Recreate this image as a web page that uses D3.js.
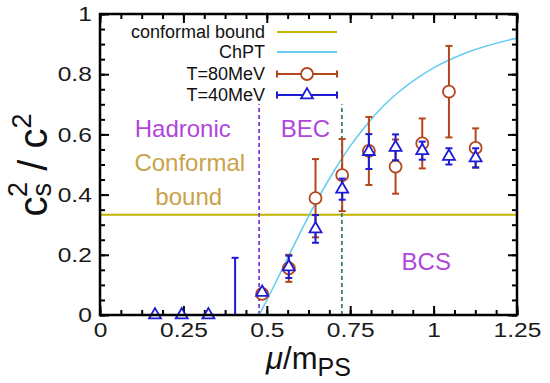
<!DOCTYPE html>
<html>
<head>
<meta charset="utf-8">
<script src="https://cdn.jsdelivr.net/npm/d3@7"></script>
<style>
  html, body { margin: 0; padding: 0; background: #fff; }
  svg { display: block; font-family: "Liberation Sans", Arial, sans-serif; }
</style>
</head>
<body>
<div id="chart"></div>
<script>
// ---- data ----
const xTicks = [0, 0.25, 0.5, 0.75, 1, 1.25];
const yTicks = [0, 0.2, 0.4, 0.6, 0.8, 1];
const xTickLabels = ['0', '0.25', '0.5', '0.75', '1', '1.25'];
const yTickLabels = ['0', '0.2', '0.4', '0.6', '0.8', '1'];

const conformalBound = 1 / 3;
const hadronicEdge = 0.477;   // purple dashed line
const becEdge = 0.725;        // green dashed line
const dashedTop = 0.70;

// ChPT curve, points
const chptMu = [0.477, 0.50, 0.52, 0.55, 0.60, 0.65, 0.70, 0.75, 0.80, 0.85, 0.90, 0.95, 1.00, 1.10, 1.25];
const chptCs2 = [0, 0.049, 0.093, 0.161, 0.273, 0.380, 0.476, 0.561, 0.633, 0.695, 0.745, 0.786, 0.821, 0.872, 0.920];

// T = 80 MeV (red circles)
const t80Mu = [0.486, 0.566, 0.646, 0.726, 0.806, 0.886, 0.966, 1.046, 1.126];
const t80Cs2 = [0.07, 0.155, 0.388, 0.465, 0.545, 0.493, 0.57, 0.742, 0.555];
const t80Err = [0.01, 0.045, 0.13, 0.12, 0.113, 0.09, 0.083, 0.152, 0.065];

// T = 40 MeV (blue triangles)
const t40Mu = [0.165, 0.245, 0.325, 0.405, 0.486, 0.566, 0.646, 0.726, 0.806, 0.886, 0.966, 1.046, 1.126];
const t40Cs2 = [0, 0, 0, -0.2, 0.075, 0.16, 0.286, 0.418, 0.543, 0.557, 0.546, 0.527, 0.522];
const t40Err = [0, 0, 0, 0.39, 0.005, 0.037, 0.046, 0.035, 0.058, 0.043, 0.03, 0.027, 0.032];

const colors = {
  bound: '#c2b300',
  chpt: '#66cdf0',
  t80: '#b4461c',
  t40: '#1c1cd4',
  region: '#b046dc',
  boundText: '#c9a24a',
  hadronLine: '#7a3fd6',
  becLine: '#3c7c72'
};

const W = 550, H = 383;
const margin = { top: 14, right: 33, bottom: 68, left: 100 };
const width = W - margin.left - margin.right;
const height = H - margin.top - margin.bottom;

const svg = d3.select('#chart').append('svg')
  .attr('width', W).attr('height', H);

const g = svg.append('g').attr('transform', `translate(${margin.left},${margin.top})`);

const x = d3.scaleLinear().domain([0, 1.25]).range([0, width]);
const y = d3.scaleLinear().domain([0, 1]).range([height, 0]);

g.append('clipPath').attr('id', 'plot-clip')
  .append('rect').attr('width', width).attr('height', height);

// ---- axes (inward ticks on all four sides) ----
const xMinor = d3.range(0, 1.2501, 0.0625);
const yMinor = d3.range(0, 1.0001, 0.05);

function styleAxis(sel) {
  sel.select('.domain').remove();
  sel.selectAll('line').attr('stroke', '#000').attr('stroke-width', 2);
  // the original labels are drawn a bit wide
  sel.selectAll('text').attr('fill', '#1a1a1a').style('font-size', '21px')
    .attr('transform', 'scale(1.17,1)');
}

g.append('g').attr('transform', `translate(0,${height})`)
  .call(d3.axisBottom(x).tickValues(xMinor).tickSize(-5).tickFormat(''))
  .call(styleAxis);
g.append('g').attr('transform', `translate(0,${height})`)
  .call(d3.axisBottom(x).tickValues(xTicks).tickSize(-9).tickPadding(7)
    .tickFormat((d, i) => xTickLabels[i]))
  .call(styleAxis);
g.append('g')
  .call(d3.axisTop(x).tickValues(xMinor).tickSize(-5).tickFormat(''))
  .call(styleAxis);
g.append('g')
  .call(d3.axisTop(x).tickValues(xTicks).tickSize(-9).tickFormat(''))
  .call(styleAxis);

g.append('g')
  .call(d3.axisLeft(y).tickValues(yMinor).tickSize(-5).tickFormat(''))
  .call(styleAxis);
g.append('g')
  .call(d3.axisLeft(y).tickValues(yTicks).tickSize(-9).tickPadding(7)
    .tickFormat((d, i) => yTickLabels[i]))
  .call(styleAxis);
g.append('g').attr('transform', `translate(${width},0)`)
  .call(d3.axisRight(y).tickValues(yMinor).tickSize(-5).tickFormat(''))
  .call(styleAxis);
g.append('g').attr('transform', `translate(${width},0)`)
  .call(d3.axisRight(y).tickValues(yTicks).tickSize(-9).tickFormat(''))
  .call(styleAxis);

// ---- region labels ----
const labels = [
  { t: 'Hadronic', x: 0.248, y: 0.591, c: colors.region },
  { t: 'BEC', x: 0.616, y: 0.591, c: colors.region },
  { t: 'Conformal', x: 0.269, y: 0.478, c: colors.boundText },
  { t: 'bound', x: 0.266, y: 0.365, c: colors.boundText },
  { t: 'BCS', x: 0.978, y: 0.15, c: colors.region }
];
g.selectAll('.region-label').data(labels).join('text')
  .attr('class', 'region-label')
  .attr('x', d => x(d.x)).attr('y', d => y(d.y))
  .attr('text-anchor', 'middle')
  .attr('fill', d => d.c)
  .style('font-size', '24px')
  .text(d => d.t);

// ---- lines ----
g.append('line')
  .attr('x1', 0).attr('x2', width)
  .attr('y1', y(conformalBound)).attr('y2', y(conformalBound))
  .attr('stroke', colors.bound).attr('stroke-width', 2);

[[hadronicEdge, colors.hadronLine], [becEdge, colors.becLine]].forEach(([v, c]) => {
  g.append('line')
    .attr('x1', x(v)).attr('x2', x(v))
    .attr('y1', y(0)).attr('y2', y(dashedTop))
    .attr('stroke', c).attr('stroke-width', 1.8)
    .attr('stroke-dasharray', '4,3');
});

const chpt = chptMu.map((m, i) => ({ x: m, y: chptCs2[i] }));
g.append('path')
  .datum(chpt)
  .attr('clip-path', 'url(#plot-clip)')
  .attr('fill', 'none')
  .attr('stroke', colors.chpt)
  .attr('stroke-width', 1.6)
  .attr('d', d3.line().x(d => x(d.x)).y(d => y(d.y)).curve(d3.curveMonotoneX));

// ---- data with error bars ----
const t80 = t80Mu.map((m, i) => ({ x: m, y: t80Cs2[i], e: t80Err[i] }));
const t40 = t40Mu.map((m, i) => ({ x: m, y: t40Cs2[i], e: t40Err[i] }));

function errorBars(data, color) {
  const eb = g.append('g').attr('clip-path', 'url(#plot-clip)')
    .attr('stroke', color).attr('stroke-width', 2);
  const withErr = data.filter(d => d.e > 0.008);
  eb.selectAll('.v').data(withErr).join('line')
    .attr('x1', d => x(d.x)).attr('x2', d => x(d.x))
    .attr('y1', d => y(d.y - d.e)).attr('y2', d => y(d.y + d.e));
  eb.selectAll('.cap').data(withErr.flatMap(d => [
    { x: d.x, y: d.y - d.e }, { x: d.x, y: d.y + d.e }
  ])).join('line')
    .attr('x1', d => x(d.x) - 3.5).attr('x2', d => x(d.x) + 3.5)
    .attr('y1', d => y(d.y)).attr('y2', d => y(d.y));
}

errorBars(t80, colors.t80);
g.append('g').selectAll('circle').data(t80.filter(d => d.y >= 0)).join('circle')
  .attr('cx', d => x(d.x)).attr('cy', d => y(d.y))
  .attr('r', 6)
  .attr('fill', '#fff').attr('stroke', colors.t80).attr('stroke-width', 1.8);

errorBars(t40, colors.t40);
const tri = d3.symbol(d3.symbolTriangle, 62);
g.append('g').selectAll('path').data(t40.filter(d => d.y >= 0)).join('path')
  .attr('transform', d => `translate(${x(d.x)},${y(d.y)})`)
  .attr('d', tri)
  .attr('fill', '#fff').attr('stroke', colors.t40).attr('stroke-width', 1.8);

// frame
g.append('rect')
  .attr('width', width).attr('height', height)
  .attr('fill', 'none').attr('stroke', '#000').attr('stroke-width', 2.5);

// ---- legend ----
const legend = svg.append('g').attr('transform', 'translate(265,0)');
const legendRows = [
  { label: 'conformal bound', y: 32, kind: 'line', c: colors.bound },
  { label: 'ChPT', y: 52, kind: 'line', c: colors.chpt },
  { label: 'T=80MeV', y: 74, kind: 'circle', c: colors.t80 },
  { label: 'T=40MeV', y: 95, kind: 'tri', c: colors.t40 }
];
legendRows.forEach(r => {
  legend.append('text')
    .attr('x', 0).attr('y', r.y + 6)
    .attr('text-anchor', 'end')
    .attr('fill', '#111')
    .style('font-size', '18px')
    .text(r.label);
  legend.append('line')
    .attr('x1', 12).attr('x2', 72).attr('y1', r.y).attr('y2', r.y)
    .attr('stroke', r.c).attr('stroke-width', 2);
  if (r.kind !== 'line') {
    [12, 72].forEach(cx => legend.append('line')
      .attr('x1', cx).attr('x2', cx).attr('y1', r.y - 3.5).attr('y2', r.y + 3.5)
      .attr('stroke', r.c).attr('stroke-width', 2));
  }
  if (r.kind === 'circle') {
    legend.append('circle').attr('cx', 42).attr('cy', r.y).attr('r', 6)
      .attr('fill', '#fff').attr('stroke', r.c).attr('stroke-width', 1.8);
  }
  if (r.kind === 'tri') {
    legend.append('path').attr('transform', `translate(42,${r.y})`).attr('d', tri)
      .attr('fill', '#fff').attr('stroke', r.c).attr('stroke-width', 1.8);
  }
});

// ---- axis titles ----
const xt = svg.append('text')
  .attr('x', margin.left + width / 2).attr('y', 369)
  .attr('text-anchor', 'middle')
  .attr('fill', '#111')
  .style('font-size', '31px');
xt.append('tspan').style('font-style', 'italic').text('μ');
xt.append('tspan').text('/m');
xt.append('tspan').attr('dy', 7).style('font-size', '25px').text('PS');

const yt = svg.append('text')
  .attr('transform', 'translate(47,165) rotate(-90)')
  .attr('text-anchor', 'middle')
  .attr('fill', '#111')
  .style('font-size', '40px');
yt.append('tspan').text('c');
yt.append('tspan').attr('dy', 4).style('font-size', '27px').text('s');
yt.append('tspan').attr('dx', -14).attr('dy', -24).style('font-size', '27px').text('2');
yt.append('tspan').attr('dy', 20).text(' / c');
yt.append('tspan').attr('dy', -16).style('font-size', '27px').text('2');
</script>
</body>
</html>
